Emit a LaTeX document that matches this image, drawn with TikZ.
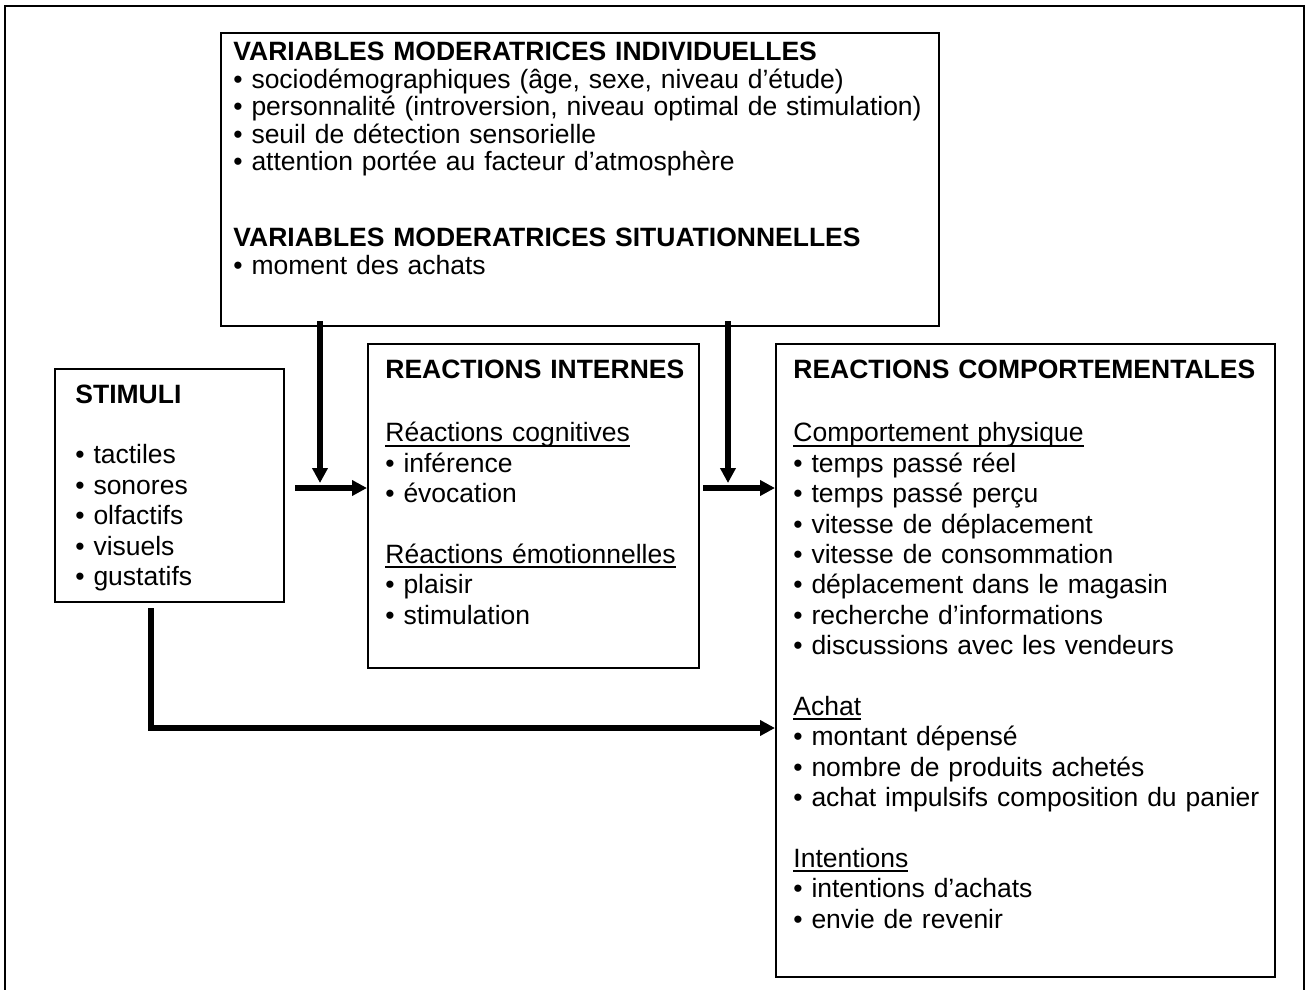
\documentclass[tikz,border=0pt]{standalone}
\usepackage{fontspec}
\setmainfont{Liberation Sans}
\usetikzlibrary{arrows.meta,calc,positioning}
\newcommand\souligne[1]{\leavevmode\setbox0\hbox{#1}\rlap{\rule[-2.37pt]{\wd0}{0.97pt}}\box0}
\newcommand\vide{\\[15.2pt]}

\begin{document}
\begin{tikzpicture}[x=0.5pt, y=-0.5pt,
  cadre/.style={draw, line width=1pt, inner sep=0pt, anchor=north west},
  texte/.style={anchor=base west, inner sep=0pt, align=left, text width=250pt,
    font=\fontsize{13.25}{15.2}\selectfont},
  fleche/.style={line width=2.75pt, -{Triangle[length=7.5pt,width=7.5pt]}}]
\useasboundingbox (0,0) rectangle (1306,990);
\draw[line width=1pt] (5,6) rectangle (1304,1010);

% boites
\node[cadre, minimum width=359pt, minimum height=146.5pt] (var) at (220,32) {};
\node[cadre, minimum width=114.5pt, minimum height=116.5pt] (stim) at (54,368) {};
\node[cadre, minimum width=165.5pt, minimum height=162pt] (int) at (367,343) {};
\node[cadre, minimum width=249.5pt, minimum height=316.5pt] (comp) at (775,343) {};

% textes
\node[texte, text width=355pt, font=\fontsize{13.25}{13.75}\selectfont]
  (var-t) at ($(var.north west)+(13,29)$) {%
  \textbf{VARIABLES MODERATRICES INDIVIDUELLES}\\
  • sociodémographiques (âge, sexe, niveau d’étude)\\
  • personnalité (introversion, niveau optimal de stimulation)\\
  • seuil de détection sensorielle\\
  • attention portée au facteur d’atmosphère\\[24.25pt]
  \textbf{VARIABLES MODERATRICES SITUATIONNELLES}\\
  • moment des achats};
\node[texte] (stim-t) at ($(stim.north west)+(21,35)$) {%
  \textbf{STIMULI}\vide
  • tactiles\\
  • sonores\\
  • olfactifs\\
  • visuels\\
  • gustatifs};
\node[texte] (int-t) at ($(int.north west)+(18,35)$) {%
  \textbf{REACTIONS INTERNES}\\[16.7pt]
  \souligne{Réactions cognitives}\\
  • inférence\\
  • évocation\vide
  \souligne{Réactions émotionnelles}\\
  • plaisir\\
  • stimulation};
\node[texte] (comp-t) at ($(comp.north west)+(18,35)$) {%
  \textbf{REACTIONS COMPORTEMENTALES}\\[16.7pt]
  \souligne{Comportement physique}\\
  • temps passé réel\\
  • temps passé perçu\\
  • vitesse de déplacement\\
  • vitesse de consommation\\
  • déplacement dans le magasin\\
  • recherche d’informations\\
  • discussions avec les vendeurs\vide
  \souligne{Achat}\\
  • montant dépensé\\
  • nombre de produits achetés\\
  • achat impulsifs composition du panier\vide
  \souligne{Intentions}\\
  • intentions d’achats\\
  • envie de revenir};

% fleches
\coordinate (m1) at (320,321);
\coordinate (m1b) at (320,483);
\coordinate (e1) at (295,488);
\coordinate (m2) at (728,321);
\coordinate (m2b) at (728,483);
\coordinate (e2) at (703,488);
\coordinate (s1) at (151,608);
\draw[fleche] (m1) -- (m1b);
\draw[fleche] (e1) -- (e1 -| int.west);
\draw[fleche] (m2) -- (m2b);
\draw[fleche] (e2) -- (e2 -| comp.west);
\draw[fleche] (s1) |- ($(comp.west |- 0,728)$);
\end{tikzpicture}
\end{document}
